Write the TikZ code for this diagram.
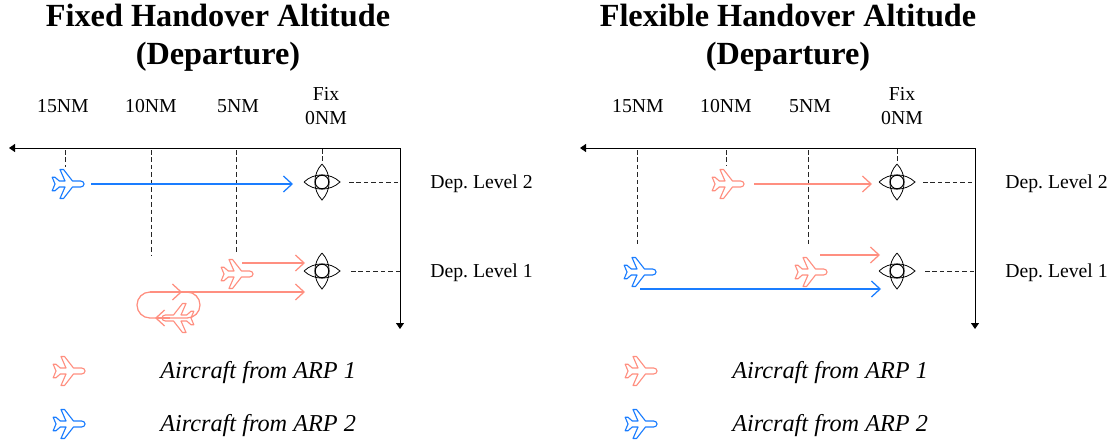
\documentclass[tikz,border=0pt]{standalone}
\usepackage{fontspec}
\setmainfont{Liberation Serif}
\usetikzlibrary{arrows.meta}
\definecolor{pinkac}{HTML}{FF8F80}
\definecolor{blueac}{HTML}{1A7DFF}
\tikzset{
  x=0.75pt,y=-0.75pt,
  titletext/.style={font=\bfseries\frenchspacing\fontsize{24.2}{28.5}\selectfont,align=center,inner sep=0pt},
  dist/.style={font=\frenchspacing\fontsize{14.8}{18.6}\selectfont,align=center,inner sep=0pt},
  legendtext/.style={font=\itshape\frenchspacing\fontsize{18.2}{22}\selectfont,anchor=west,inner sep=0pt},
  axisline/.style={line width=0.75pt,-{Triangle[length=4.5pt,width=6pt]}},
  guide/.style={line width=0.7pt,dash pattern=on 3.4pt off 2.2pt,black!85},
  flowp/.style={line width=0.95pt,pinkac,-{Straight Barb[length=6.5pt,width=12pt,line width=0.95pt]}},
  flowb/.style={line width=0.95pt,blueac,-{Straight Barb[length=6.5pt,width=12pt,line width=0.95pt]}},
  fixpt/.pic={
    \draw[line width=0.75pt,black] (0,0) circle (6.8);
    \draw[line width=0.6pt,black] (-18,0) .. controls (-8,-9.5) and (8,-9.5) .. (18,0) .. controls (8,9.5) and (-8,9.5) .. (-18,0);
    \draw[line width=0.6pt,black] (0,-18) .. controls (-9.5,-8) and (-9.5,8) .. (0,18) .. controls (9.5,8) and (9.5,-8) .. (0,-18);
  },
  plane/.pic={
    \draw[pic actions,line width=0.85pt,line join=round] (16,0) .. controls (16,-1.8) and (14.5,-3) .. (12.5,-3)
      -- (4.5,-3) -- (-4.5,-14.5) -- (-8,-14.5) -- (-3,-3) -- (-8.7,-3) -- (-13,-6.7) -- (-15.8,-6.7) -- (-13,0)
      -- (-15.8,6.7) -- (-13,6.7) -- (-8.7,3) -- (-3,3) -- (-8,14.5) -- (-4.5,14.5) -- (4.5,3) -- (12.5,3)
      .. controls (14.5,3) and (16,1.8) .. (16,0) -- cycle;
  },
}
\begin{document}
\begin{tikzpicture}
\useasboundingbox (0,0) rectangle (1116,446);
% ---------- titles
\node[titletext] (t1) at (218,37.5) {Fixed Handover Altitude\\(Departure)};
\node[titletext] (t2) at (788,37.5) {Flexible Handover Altitude\\(Departure)};
% ---------- distance labels, left
\node[dist] (a15) at (63,106) {15NM};
\node[dist] (a10) at (151,106) {10NM};
\node[dist] (a5) at (238,106) {5NM};
\node[dist] (a0) at (326,106) {Fix\\0NM};
% ---------- distance labels, right
\node[dist] (b15) at (638,106) {15NM};
\node[dist] (b10) at (726,106) {10NM};
\node[dist] (b5) at (810,106) {5NM};
\node[dist] (b0) at (902,106) {Fix\\0NM};
% ---------- level labels
\node[dist,anchor=west] (al2) at (430,184) {Dep. Level 2};
\node[dist,anchor=west] (al1) at (430,273) {Dep. Level 1};
\node[dist,anchor=west] (bl2) at (1005,184) {Dep. Level 2};
\node[dist,anchor=west] (bl1) at (1005,273) {Dep. Level 1};
% ---------- axis coordinates
\coordinate (ac) at (400,148);
\coordinate (ax) at (9,148);
\coordinate (ay) at (400,329);
\draw[axisline] (ac) -- (ax);
\draw[axisline] (ac) -- (ay);
\coordinate (bc) at (975,148);
\coordinate (bx) at (580,148);
\coordinate (by) at (975,329);
\draw[axisline] (bc) -- (bx);
\draw[axisline] (bc) -- (by);
% ---------- fixes
\coordinate (af2) at (322,182); \coordinate (af1) at (322,271);
\coordinate (bf2) at (897,182); \coordinate (bf1) at (897,271);
\foreach \p in {af2,af1,bf2,bf1} \pic at (\p) {fixpt};
% ---------- guides, left
\draw[guide] (65,150) -- (65,167);
\draw[guide] (151,150) -- (151,255);
\draw[guide] (236,150) -- (236,252);
\draw[guide] (322,149) -- (322,164);
\draw[guide] (349,182) -- (ac|-af2);
\draw[guide] (351,271) -- (ac|-af1);
% ---------- guides, right
\draw[guide] (637,150) -- (637,245);
\draw[guide] (726,150) -- (726,166);
\draw[guide] (808,150) -- (808,245);
\draw[guide] (897,149) -- (897,164);
\draw[guide] (923,182) -- (bc|-bf2);
\draw[guide] (925,271) -- (bc|-bf1);
% ---------- planes
\pic[blueac] at (68,184) {plane};
\pic[pinkac] at (237,274) {plane};
\pic[pinkac,xscale=-1] at (178,318) {plane};
\pic[pinkac] at (728,184) {plane};
\pic[blueac] at (640,272) {plane};
\pic[pinkac] at (811,272) {plane};
\pic[pinkac] at (69,371) {plane};
\pic[blueac] at (69,424) {plane};
\pic[pinkac] at (641,371) {plane};
\pic[blueac] at (641,424) {plane};
% ---------- flows, left
\draw[flowb] (91,184) -- (293,184);
\draw[flowp] (242,263) -- (305,263);
\draw[flowp] (150,292) -- (305,292);
\draw[line width=0.95pt,pinkac] (150,292) .. controls (142.8,292) and (137,297.8) .. (137,305) .. controls (137,312.2) and (142.8,318) .. (150,318) -- (187,318) .. controls (194.2,318) and (200,312.2) .. (200,305) .. controls (200,297.8) and (194.2,292) .. (187,292);
\draw[flowp] (150,292) -- (182,292);
\draw[flowp] (170,318) -- (155,318);
% ---------- flows, right
\draw[flowp] (754,184) -- (872,184);
\draw[flowp] (820,255) -- (880,255);
\draw[flowb] (640,289) -- (881,289);
% ---------- legend
\node[legendtext] (l1) at (160,373) {Aircraft from ARP 1};
\node[legendtext] (l2) at (160,426) {Aircraft from ARP 2};
\node[legendtext] (l3) at (732,373) {Aircraft from ARP 1};
\node[legendtext] (l4) at (732,426) {Aircraft from ARP 2};
\end{tikzpicture}
\end{document}
